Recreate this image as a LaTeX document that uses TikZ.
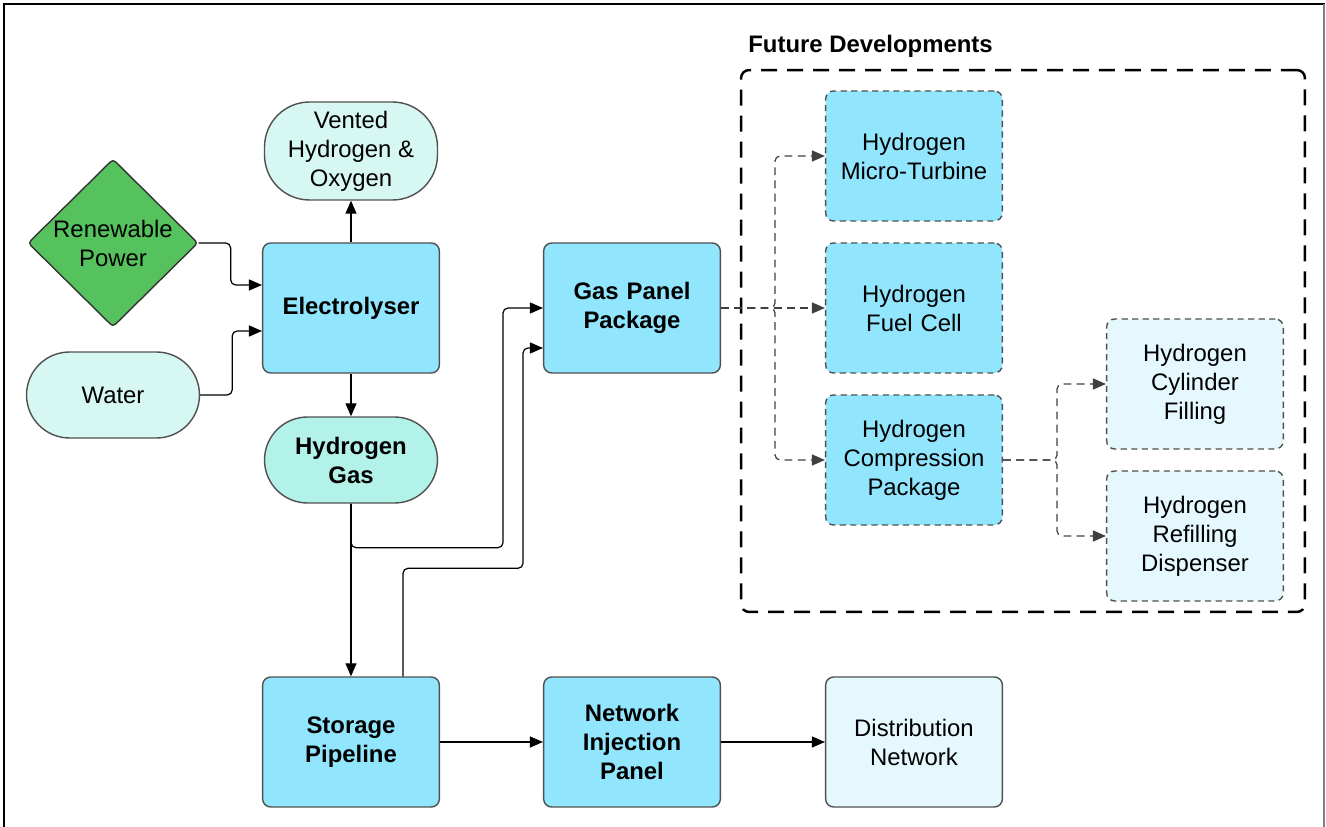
\documentclass[tikz,border=0pt]{standalone}
\usepackage{fontspec}
\setmainfont{Liberation Sans}
\usetikzlibrary{shapes.geometric,arrows.meta}

\definecolor{boxblue}{HTML}{91E6FE}
\definecolor{paleblue}{HTML}{E4F8FE}
\definecolor{mint}{HTML}{D6F7F2}
\definecolor{gasmint}{HTML}{B3F2E8}
\definecolor{leafgreen}{HTML}{55C25E}
\definecolor{edgegray}{HTML}{505050}

\tikzset{
  block/.style={rectangle,rounded corners=0.16cm,draw=edgegray,line width=0.8pt,
    fill=boxblue,minimum width=3.46cm,minimum height=2.6cm,align=center,
    text width=3.3cm},
  future/.style={block,dash pattern=on 3.5pt off 2.5pt},
  pill/.style={rectangle,rounded corners=0.86cm,draw=edgegray,line width=0.8pt,
    fill=mint,minimum width=3.46cm,minimum height=1.72cm,align=center},
  flow/.style={-{Triangle[length=0.26cm,width=0.22cm]},line width=0.7pt,
    rounded corners=0.1cm},
  maybe/.style={flow,draw=black!75,dash pattern=on 4.5pt off 3pt},
}

\begin{document}
\begin{tikzpicture}[x=0.02cm,y=-0.02cm,
    every node/.style={font=\fontsize{13.6}{16.5}\selectfont}]
  \useasboundingbox (0,0) rectangle (1326,827);

  % page frame
  \draw[line width=1.3pt] (4,840) -- (4,4) -- (1325,4);
  \draw[gray,line width=0.8pt] (1324,4) -- (1324,840);

  % inputs and electrolyser
  \node[diamond,draw=black!80,line width=0.8pt,fill=leafgreen,rounded corners=2pt,
    minimum width=3.4cm,minimum height=3.36cm,inner sep=0pt,align=center]
    (power) at (113,243) {Renewable\\Power};
  \node[pill] (water) at (113,395) {Water};
  \node[pill,minimum height=1.96cm,rounded corners=0.9cm] (vent) at (351,151)
    {Vented\\Hydrogen \&\\Oxygen};
  \node[block] (elec) at (351,308) {\textbf{Electrolyser}};
  \node[pill,fill=gasmint] (gas) at (351,460) {\textbf{Hydrogen}\\\textbf{Gas}};

  % main line
  \node[block] (panel) at (632,308) {\textbf{Gas Panel}\\\textbf{Package}};
  \node[block] (store) at (351,742) {\textbf{Storage}\\\textbf{Pipeline}};
  \node[block] (inject) at (632,742) {\textbf{Network}\\\textbf{Injection}\\\textbf{Panel}};
  \node[block,fill=paleblue] (dist) at (914,742) {Distribution\\Network};

  % future developments
  \node[rectangle,draw=black,line width=1.4pt,rounded corners=0.16cm,
    dash pattern=on 0.32cm off 0.2cm,minimum width=11.28cm,minimum height=10.84cm]
    (later) at (1023,341) {};
  \node[anchor=west,inner sep=0pt] (laterlbl) at (748,46)
    {\textbf{Future Developments}};
  \node[future] (turbine) at (914,156) {Hydrogen\\Micro-Turbine};
  \node[future] (fuel) at (914,308) {Hydrogen\\Fuel Cell};
  \node[future] (comp) at (914,460) {Hydrogen\\Compression\\Package};
  \node[future,fill=paleblue] (cyl) at (1195,384) {Hydrogen\\Cylinder\\Filling};
  \node[future,fill=paleblue] (disp) at (1195,536) {Hydrogen\\Refilling\\Dispenser};

  % solid connectors
  \draw[flow] (power.east) -- ++(32,0) |- ([yshift=0.46cm]elec.west);
  \draw[flow] (water.east) -- ++(32,0) |- ([yshift=-0.46cm]elec.west);
  \draw[flow] (elec) -- (vent);
  \draw[flow] (elec) -- (gas);
  \draw[flow] (gas) -- (store);
  \draw[flow] (gas.south) |- ++(152,44) |- (panel.west);
  \draw[flow] ([xshift=1.04cm]store.north) |- ++(120,-108)
    |- ([yshift=-0.8cm]panel.west);
  \draw[flow] (store) -- (inject);
  \draw[flow] (inject) -- (dist);

  % dashed connectors
  \draw[maybe] (panel) -- (fuel);
  \draw[maybe] (panel.east) -- ++(54,0) |- (turbine.west);
  \draw[maybe] (panel.east) -- ++(54,0) |- (comp.west);
  \draw[maybe] (comp.east) -- ++(54,0) |- (cyl.west);
  \draw[maybe] (comp.east) -- ++(54,0) |- (disp.west);

\end{tikzpicture}
\end{document}
